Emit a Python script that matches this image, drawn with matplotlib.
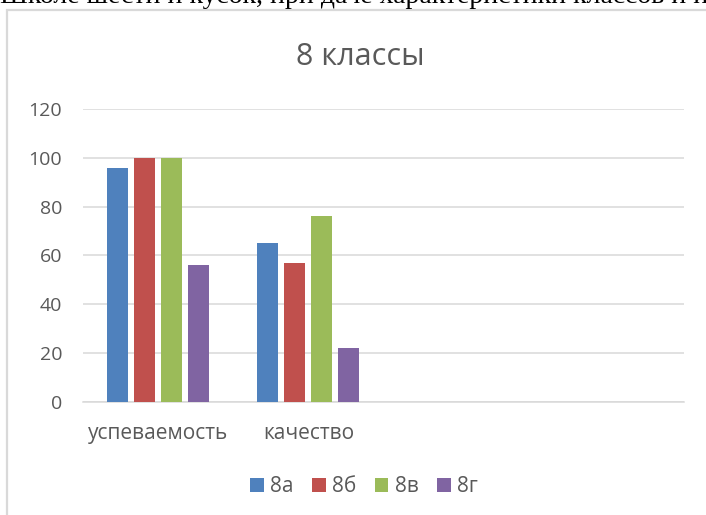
import numpy as np
import matplotlib
matplotlib.use("Agg")
import matplotlib.pyplot as plt
from matplotlib.patches import Rectangle

plt.rcParams['font.family'] = ['Open Sans', 'DejaVu Sans']

title = "8 классы"
categories = ['успеваемость', 'качество', '', '']
series = ['8а', '8б', '8в', '8г']
v_8a = [96, 65]
v_8b = [100, 57]
v_8v = [100, 76]
v_8g = [56, 22]
colors = ['#4F81BD', '#C0504D', '#9BBB59', '#8064A2']
yticks = [0, 20, 40, 60, 80, 100, 120]

fig = plt.figure(figsize=(7.06, 5.15), dpi=100)
ax = fig.add_axes([83/706, 1 - 401.7/515, (684 - 83)/706, (401.7 - 109)/515])

x = np.arange(len(categories))
step = 0.18
width = 0.14
for i, (name, vals) in enumerate(zip(series, [v_8a, v_8b, v_8v, v_8g])):
    xs = x[:len(vals)] + (i - 1.5) * step
    ax.bar(xs, vals, width=width, color=colors[i], label=name, zorder=3)

ax.set_xlim(-0.5, len(categories) - 0.5)
ax.set_ylim(0, 120)
ax.set_yticks(yticks)
ax.set_xticks(x)
ax.set_xticklabels(categories)
ax.grid(axis='y', color='#d9d9d9', linewidth=1.1, zorder=0)
for s in ['top', 'right', 'left']:
    ax.spines[s].set_visible(False)
ax.spines['bottom'].set_color('#d9d9d9')
ax.spines['bottom'].set_linewidth(1.1)
ax.tick_params(axis='y', length=0, pad=15, labelsize=14, labelcolor='#595959')
ax.tick_params(axis='x', length=0, pad=15, labelsize=15, labelcolor='#595959')

fig.text(360/706, 1 - 57/515, title, ha='center', va='center',
         fontsize=22, color='#595959')

leg = fig.legend(loc='center', bbox_to_anchor=(364/706, 1 - 487/515), ncol=4,
                 frameon=False, fontsize=15, handlelength=0.65, handleheight=0.65,
                 handletextpad=0.3, columnspacing=0.9)
for t in leg.get_texts():
    t.set_color('#595959')

# chart border (only top and left edges visible in the crop)
fig.patches.append(Rectangle((7/706, -0.1), 1.2, 1.1 - 10/515, transform=fig.transFigure,
                             fill=False, edgecolor='#d9d9d9', linewidth=1.6))

# cropped line of document text above the chart
fig.text(0.0, 1 - 3/515, "Школе шести и кусок, при даче характеристики классов и их",
         ha='left', va='baseline', fontsize=20, color='black',
         family=['Liberation Serif', 'DejaVu Serif'])

fig.savefig("out.png", dpi=100)
